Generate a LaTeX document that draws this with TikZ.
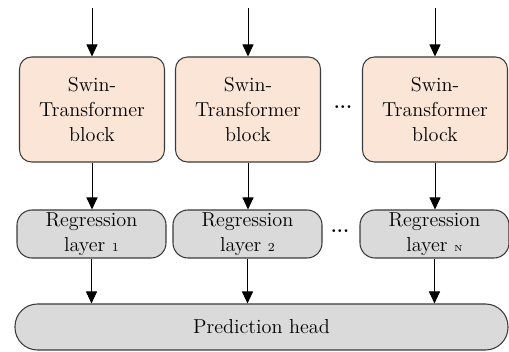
\documentclass[tikz,border=0pt]{standalone}
\usetikzlibrary{arrows.meta}
\definecolor{swinfill}{HTML}{FBE5D6}
\definecolor{regfill}{HTML}{DADADA}
\definecolor{edgegray}{HTML}{3A3A3A}

\begin{document}
\begin{tikzpicture}[
		swinblock/.style={draw=edgegray, fill=swinfill, line width=0.6pt, rounded corners=0.24cm,
			minimum width=2.9cm, minimum height=2.1cm, align=center, font=\fontsize{11.5}{14.2}\selectfont},
		regblock/.style={draw=edgegray, fill=regfill, line width=0.6pt, rounded corners=0.3cm,
			minimum width=2.98cm, minimum height=0.96cm, align=center, inner sep=0pt, font=\fontsize{11.5}{14.2}\selectfont},
		gap/.style={font=\bfseries\fontsize{11}{12}\selectfont, inner sep=0pt},
		flow/.style={-{Triangle[length=0.24cm, width=0.22cm]}, line width=0.55pt, black}
	]
		%%%%% frame %%%%%
		\useasboundingbox (0, 0) rectangle (10.18, 7.04);
		
		%%%%% swin-transformer blocks %%%%%
		\node[swinblock] (swin1) at (1.84, 4.85) {Swin-\\Transformer\\block};
		\node[swinblock] (swin2) at (4.96, 4.85) {Swin-\\Transformer\\block};
		\node[swinblock] (swin3) at (8.70, 4.85) {Swin-\\Transformer\\block};
		\node[gap] (dots1) at (6.86, 4.90) {...};
		
		\coordinate (in1) at (1.84, 6.88);
		\coordinate (in2) at (4.96, 6.88);
		\coordinate (in3) at (8.70, 6.88);
		
		%%%%% regression layers %%%%%
		\node[regblock] (reg1) at (1.83, 2.36) {Regression\\layer {\scriptsize 1}};
		\node[regblock] (reg2) at (4.95, 2.36) {Regression\\layer {\scriptsize 2}};
		\node[regblock] (reg3) at (8.69, 2.36) {Regression\\layer {\tiny N}};
		\node[gap] (dots2) at (6.80, 2.42) {...};
		
		%%%%% prediction head %%%%%
		\node[regblock, rounded corners=0.45cm, minimum width=9.86cm, minimum height=0.92cm] (head) at (5.23, 0.5) {Prediction head};
		
		%%%%% arrows %%%%%
		\draw[flow] (in1) -- (swin1);
		\draw[flow] (in2) -- (swin2);
		\draw[flow] (in3) -- (swin3);
		
		\draw[flow] (swin1) -- (reg1.north -| swin1);
		\draw[flow] (swin2) -- (reg2.north -| swin2);
		\draw[flow] (swin3) -- (reg3.north -| swin3);
		
		\draw[flow] (reg1) -- (reg1 |- head.north);
		\draw[flow] (reg2) -- (reg2 |- head.north);
		\draw[flow] (reg3) -- (reg3 |- head.north);
	\end{tikzpicture}
\end{document}
